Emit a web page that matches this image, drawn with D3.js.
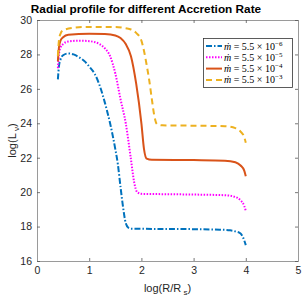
<!DOCTYPE html>
<html>
<head>
<meta charset="utf-8">
<script src="https://cdn.jsdelivr.net/npm/d3@7"></script>
<style>
  body { margin: 0; background: #fff; }
  svg { display: block; }
</style>
</head>
<body>
<div id="chart"></div>
<script>
// log(R/Rs) and log(L_nu)
const logR_6 = [0.40, 0.42, 0.45, 0.50, 0.60, 0.70, 0.80, 0.92, 1.00, 1.10, 1.20, 1.30, 1.40, 1.50, 1.55, 1.60, 1.65, 1.70, 1.75, 1.80, 2.00, 2.50, 3.00, 3.50, 3.70, 3.80, 3.90, 3.95, 4.00];
const logL_6 = [26.55, 27.3, 27.7, 27.95, 28.06, 28.0, 27.85, 27.58, 27.3, 26.9, 26.2, 25.2, 24.0, 22.5, 21.6, 20.3, 19.1, 18.2, 17.93, 17.88, 17.87, 17.86, 17.85, 17.82, 17.78, 17.72, 17.6, 17.35, 16.92];

const logR_5 = [0.40, 0.42, 0.45, 0.50, 0.60, 0.80, 1.00, 1.10, 1.20, 1.30, 1.40, 1.50, 1.60, 1.70, 1.80, 1.86, 1.92, 2.00, 2.50, 3.00, 3.60, 3.80, 3.90, 3.97, 4.00];
const logL_5 = [27.2, 28.0, 28.4, 28.6, 28.75, 28.8, 28.77, 28.72, 28.6, 28.35, 27.9, 26.9, 25.4, 24.0, 21.9, 20.6, 20.0, 19.9, 19.88, 19.86, 19.82, 19.72, 19.52, 19.2, 18.91];

const logR_4 = [0.40, 0.42, 0.45, 0.50, 0.60, 1.00, 1.30, 1.50, 1.60, 1.70, 1.80, 1.90, 2.00, 2.05, 2.10, 2.20, 3.00, 3.60, 3.80, 3.90, 3.97, 4.00];
const logL_4 = [27.6, 28.4, 28.8, 29.0, 29.15, 29.2, 29.18, 29.1, 28.95, 28.6, 27.9, 26.3, 24.0, 22.5, 21.95, 21.88, 21.86, 21.83, 21.74, 21.55, 21.25, 20.93];

const logR_3 = [0.40, 0.42, 0.45, 0.50, 0.70, 1.00, 1.50, 1.70, 1.80, 1.90, 2.00, 2.05, 2.10, 2.15, 2.20, 2.25, 2.30, 2.40, 3.00, 3.60, 3.80, 3.90, 3.97, 4.00];
const logL_3 = [27.9, 28.8, 29.2, 29.4, 29.55, 29.6, 29.6, 29.52, 29.45, 29.25, 28.8, 28.2, 27.4, 26.5, 25.4, 24.4, 23.95, 23.88, 23.86, 23.83, 23.72, 23.52, 23.2, 22.87];

const exponents = ['\u22126', '\u22125', '\u22124', '\u22123'];
const xTicks = [0, 1, 2, 3, 4, 5];
const yTicks = [16, 18, 20, 22, 24, 26, 28, 30];

const series = [
  {x: logR_6, y: logL_6, exp: exponents[0], color: '#0072BD', dash: '6,2,1.5,2'},
  {x: logR_5, y: logL_5, exp: exponents[1], color: '#FF00FF', dash: '1.5,1.5'},
  {x: logR_4, y: logL_4, exp: exponents[2], color: '#D95319', dash: null},
  {x: logR_3, y: logL_3, exp: exponents[3], color: '#EDB120', dash: '6,4'}
];

const W = 305, H = 305;
const margin = {left: 37, right: 7, top: 20, bottom: 44};

const svg = d3.select('#chart').append('svg').attr('width', W).attr('height', H);

const x = d3.scaleLinear().domain([0, 5]).range([margin.left, W - margin.right]);
const y = d3.scaleLinear().domain([16, 30]).range([H - margin.bottom, margin.top]);

const axisColor = '#9a9a9a';
const textColor = '#262626';

// title
svg.append('text')
  .attr('x', 146)
  .attr('y', 13)
  .attr('text-anchor', 'middle')
  .attr('font-family', 'Liberation Sans, Arial, sans-serif')
  .attr('font-weight', 'bold')
  .attr('font-size', 11.8)
  .attr('fill', '#000')
  .text('Radial profile for different Accretion Rate');

// curves (clipped to plot box)
svg.append('clipPath').attr('id', 'clip')
  .append('rect')
  .attr('x', x(0)).attr('y', y(30))
  .attr('width', x(5) - x(0)).attr('height', y(16) - y(30));

const line = d3.line()
  .x(d => x(d[0]))
  .y(d => y(d[1]))
  .curve(d3.curveMonotoneX);

const plot = svg.append('g').attr('clip-path', 'url(#clip)');
series.forEach(s => {
  plot.append('path')
    .attr('fill', 'none')
    .attr('stroke', s.color)
    .attr('stroke-width', 2)
    .attr('stroke-dasharray', s.dash)
    .attr('d', line(s.x.map((v, i) => [v, s.y[i]])));
});

// axes
const tickLen = 3;
const axes = svg.append('g');
axes.append('g')
  .attr('transform', 'translate(0,' + y(16) + ')')
  .call(d3.axisBottom(x).tickValues(xTicks).tickSize(-tickLen).tickPadding(6).tickFormat(d3.format('d')));
axes.append('g')
  .attr('transform', 'translate(0,' + y(30) + ')')
  .call(d3.axisTop(x).tickValues(xTicks).tickSize(-tickLen).tickFormat(''));
axes.append('g')
  .attr('transform', 'translate(' + x(0) + ',0)')
  .call(d3.axisLeft(y).tickValues(yTicks).tickSize(-tickLen).tickPadding(5).tickFormat(d3.format('d')));
axes.append('g')
  .attr('transform', 'translate(' + x(5) + ',0)')
  .call(d3.axisRight(y).tickValues(yTicks).tickSize(-tickLen).tickFormat(''));

axes.selectAll('path.domain').attr('stroke', axisColor).attr('stroke-width', 1);
axes.selectAll('.tick line').attr('stroke', '#555').attr('stroke-width', 0.8);
axes.selectAll('.tick text')
  .attr('fill', textColor)
  .attr('font-family', 'Liberation Sans, Arial, sans-serif')
  .attr('font-size', 10.5);

// axis labels
const xl = svg.append('text')
  .attr('x', (x(0) + x(5)) / 2)
  .attr('y', 292)
  .attr('text-anchor', 'middle')
  .attr('font-family', 'Liberation Sans, Arial, sans-serif')
  .attr('font-size', 11)
  .attr('fill', textColor);
xl.append('tspan').text('log(R/R');
xl.append('tspan').attr('font-size', 8).attr('dy', 3).text(' s');
xl.append('tspan').attr('dy', -3).text(')');

const yl = svg.append('text')
  .attr('transform', 'translate(16,' + ((y(16) + y(30)) / 2) + ') rotate(-90)')
  .attr('text-anchor', 'middle')
  .attr('font-family', 'Liberation Sans, Arial, sans-serif')
  .attr('font-size', 11)
  .attr('fill', textColor);
yl.append('tspan').text('log(L');
yl.append('tspan').attr('font-size', 8).attr('dy', 3).text(' \u03BD');
yl.append('tspan').attr('dy', -3).text(')');

// legend
const lg = svg.append('g');
lg.append('rect')
  .attr('x', 203.5).attr('y', 38.5)
  .attr('width', 89).attr('height', 49)
  .attr('fill', '#fff').attr('stroke', '#333').attr('stroke-width', 0.8);

series.forEach((s, i) => {
  const yy = 46 + i * 11.3;
  lg.append('line')
    .attr('x1', 206).attr('x2', 222).attr('y1', yy).attr('y2', yy)
    .attr('stroke', s.color).attr('stroke-width', 2)
    .attr('stroke-dasharray', s.dash);
  const t = lg.append('text')
    .attr('x', 224).attr('y', yy + 3.5)
    .attr('font-family', 'Liberation Serif, DejaVu Serif, serif')
    .attr('font-size', 10)
    .attr('fill', '#000');
  t.append('tspan').attr('font-style', 'italic').text('\u1E41');
  t.append('tspan').text(' = 5.5 \u00D7 10');
  t.append('tspan').attr('font-size', 7).attr('dy', -4).text(s.exp);
});
</script>
</body>
</html>
